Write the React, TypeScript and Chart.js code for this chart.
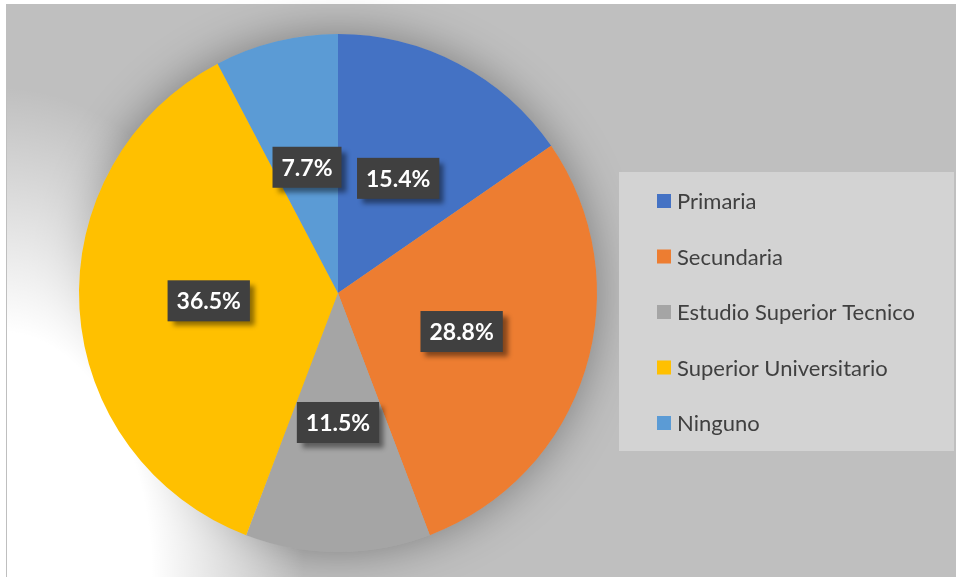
import React, { useEffect, useRef } from "react";
import { Chart, registerables } from "chart.js";

Chart.register(...registerables);

const categories = [
  "Primaria",
  "Secundaria",
  "Estudio Superior Tecnico",
  "Superior Universitario",
  "Ninguno",
];
const counts = [8, 15, 6, 19, 4];
const sliceColors = ["#4472C4", "#ED7D31", "#A5A5A5", "#FFC000", "#5B9BD5"];

const W = 956;
const H = 577;

const backgroundPlugin = {
  id: "bgPlugin",
  beforeDraw(chart: any) {
    const ctx = chart.ctx;
    ctx.save();
    ctx.fillStyle = "#FFFFFF";
    ctx.fillRect(0, 0, W, H);
    ctx.fillStyle = "#BFBFBF";
    ctx.fillRect(6, 4, W - 6, H - 4);
    ctx.restore();
  },
  beforeDatasetsDraw(chart: any) {
    const ctx = chart.ctx;
    const meta = chart.getDatasetMeta(0);
    const arc = meta.data[0];
    if (!arc) return;
    const { x, y, outerRadius } = arc.getProps(["x", "y", "outerRadius"], true);
    ctx.save();
    ctx.shadowColor = "rgba(0,0,0,0.35)";
    ctx.shadowBlur = 45;
    ctx.fillStyle = "#A8A8A8";
    ctx.beginPath();
    ctx.arc(x, y, outerRadius, 0, Math.PI * 2);
    ctx.fill();
    ctx.restore();
    ctx.save();
    ctx.beginPath();
    ctx.rect(7, 5, W, H);
    ctx.clip();
    ctx.translate(0, H);
    ctx.scale(0.62, 1);
    const g = ctx.createRadialGradient(0, 0, 0, 0, 0, 490);
    g.addColorStop(0, "rgba(255,255,255,1)");
    g.addColorStop(0.5, "rgba(255,255,255,1)");
    g.addColorStop(1, "rgba(255,255,255,0)");
    ctx.fillStyle = g;
    ctx.fillRect(0, -490, 490, 490);
    ctx.restore();
  },
  afterDatasetsDraw(chart: any) {
    const ctx = chart.ctx;
    const meta = chart.getDatasetMeta(0);
    const data = chart.data.datasets[0].data as number[];
    const total = data.reduce((a, b) => a + b, 0);
    ctx.save();
    ctx.font = "bold 23px Lato";
    ctx.textAlign = "center";
    ctx.textBaseline = "middle";
    meta.data.forEach((arc: any, i: number) => {
      const p = arc.getCenterPoint();
      const txt = ((data[i] / total) * 100).toFixed(1) + "%";
      const tw = ctx.measureText(txt).width;
      const bw = tw + 18;
      const bh = 41;
      ctx.save();
      ctx.shadowColor = "rgba(0,0,0,0.45)";
      ctx.shadowBlur = 5;
      ctx.shadowOffsetX = 5;
      ctx.shadowOffsetY = 5;
      ctx.fillStyle = "#404040";
      ctx.fillRect(p.x - bw / 2, p.y - bh / 2, bw, bh);
      ctx.restore();
      ctx.fillStyle = "#FFFFFF";
      ctx.fillText(txt, p.x, p.y + 1);
    });
    ctx.restore();
  },
  afterDraw(chart: any) {
    const ctx = chart.ctx;
    const labels = chart.data.labels as string[];
    const colors = chart.data.datasets[0].backgroundColor as string[];
    ctx.save();
    ctx.fillStyle = "#D3D3D3";
    ctx.fillRect(619, 172, 335, 279);
    ctx.font = "22px Lato";
    ctx.textAlign = "left";
    ctx.textBaseline = "middle";
    labels.forEach((lab, i) => {
      const cy = 201 + i * 55.5;
      ctx.fillStyle = colors[i];
      ctx.fillRect(657, cy - 7, 14, 14);
      ctx.fillStyle = "#404040";
      ctx.fillText(lab, 677, cy + 1);
    });
    ctx.restore();
  },
};

export default function App() {
  const ref = useRef<HTMLCanvasElement | null>(null);
  useEffect(() => {
    if (!ref.current) return;
    const chart = new Chart(ref.current, {
      type: "pie",
      data: {
        labels: categories,
        datasets: [
          {
            data: counts,
            backgroundColor: sliceColors,
            borderWidth: 0,
          },
        ],
      },
      options: {
        responsive: false,
        animation: false,
        devicePixelRatio: 1,
        layout: { padding: { left: 79, right: 359, top: 34, bottom: 25 } },
        plugins: {
          legend: { display: false },
          tooltip: { enabled: false },
        },
      },
      plugins: [backgroundPlugin],
    });
    return () => chart.destroy();
  }, []);
  return (
    <div style={{ position: "absolute", left: 0, top: 0, width: W, height: H }}>
      <canvas ref={ref} width={W} height={H} style={{ display: "block" }} />
    </div>
  );
}
